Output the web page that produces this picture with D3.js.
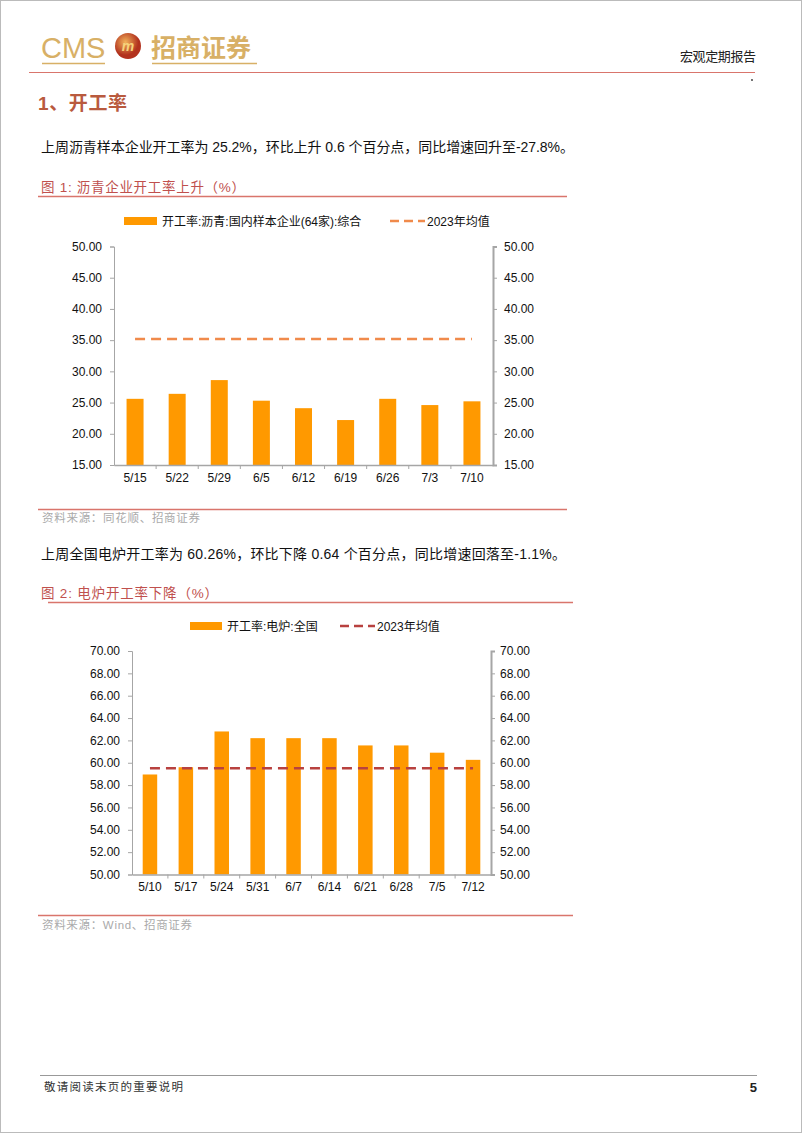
<!DOCTYPE html>
<html><head><meta charset="utf-8">
<script src="https://cdn.jsdelivr.net/npm/d3@7/dist/d3.min.js"></script>
<style>
body{margin:0;background:#fff;}
svg{display:block;}
text{font-family:"Liberation Sans","Noto Sans CJK SC",Arial,sans-serif;}
.cjk{font-family:"Liberation Sans","Noto Sans CJK SC",sans-serif;}
</style></head>
<body>
<svg id="page" width="802" height="1133"></svg>
<script>
// ---- data ----
const cats1 = ["5/15","5/22","5/29","6/5","6/12","6/19","6/26","7/3","7/10"];
const vals1 = [25.6,26.4,28.6,25.3,24.1,22.2,25.6,24.6,25.2];
const avg1 = 35.2;
const ticks1 = [15,20,25,30,35,40,45,50];
const name1 = "开工率:沥青:国内样本企业(64家):综合";

const cats2 = ["5/10","5/17","5/24","5/31","6/7","6/14","6/21","6/28","7/5","7/12"];
const vals2 = [58.95,59.6,62.8,62.2,62.2,62.2,61.55,61.55,60.9,60.26];
const avg2 = 59.5;
const ticks2 = [50,52,54,56,58,60,62,64,66,68,70];
const name2 = "开工率:电炉:全国";
const avgName = "2023年均值";

const svg = d3.select("#page");
const red = "#C0504D";

// page border
svg.append("rect").attr("x",0.5).attr("y",0.5).attr("width",801).attr("height",1132).attr("fill","none").attr("stroke","#bbb");

function txt(x,y,size,fill,s,len,weight){
  const t = svg.append("text").attr("class","cjk").attr("x",x).attr("y",y).attr("font-size",size).attr("fill",fill).text(s);
  if(len) t.attr("textLength",len).attr("lengthAdjust","spacing");
  if(weight) t.attr("font-weight",weight);
  return t;
}

// ---- header ----
const gold = "#D8B066";
svg.append("text").attr("x",41).attr("y",58).attr("font-size",29).attr("fill",gold).attr("font-family","Liberation Sans").text("CMS");
svg.append("line").attr("x1",42).attr("x2",105).attr("y1",63.5).attr("y2",63.5).attr("stroke",gold).attr("stroke-width",1.5);
const grad = svg.append("defs").append("radialGradient").attr("id","lg").attr("cx","40%").attr("cy","35%");
grad.append("stop").attr("offset","0%").attr("stop-color","#F2B25A");
grad.append("stop").attr("offset","100%").attr("stop-color","#B2321E");
svg.append("circle").attr("cx",128).attr("cy",46).attr("r",13).attr("fill","url(#lg)");
svg.append("text").attr("x",128).attr("y",51).attr("text-anchor","middle").attr("font-size",14).attr("font-style","italic").attr("font-weight","bold").attr("fill","#F6D27A").text("m");
txt(151,57,25,gold,"招商证券",null,"bold");
svg.append("line").attr("x1",152).attr("x2",257).attr("y1",63.5).attr("y2",63.5).attr("stroke",gold).attr("stroke-width",1.5);
txt(680,61,13,"#222","宏观定期报告",76);
svg.append("line").attr("x1",29).attr("x2",755).attr("y1",72.5).attr("y2",72.5).attr("stroke","#D9756C").attr("stroke-width",1);
svg.append("circle").attr("cx",752).attr("cy",80).attr("r",0.9).attr("fill","#333");

// ---- section title & texts ----
txt(38,110,19,"#B95A3E","1、开工率",89,"bold");
txt(41,152,14,"#111","上周沥青样本企业开工率为 25.2%，环比上升 0.6 个百分点，同比增速回升至-27.8%。",533);
txt(41,192,13.5,red,"图 1:  沥青企业开工率上升（%）",204);
svg.append("line").attr("x1",38).attr("x2",567).attr("y1",196.5).attr("y2",196.5).attr("stroke","#D9756C").attr("stroke-width",1.3);
svg.append("line").attr("x1",38).attr("x2",567).attr("y1",509.5).attr("y2",509.5).attr("stroke","#D9756C").attr("stroke-width",1.3);
txt(42,522,11.5,"#aaa","资料来源：同花顺、招商证券",158);

txt(41,559,14,"#111","上周全国电炉开工率为 60.26%，环比下降 0.64 个百分点，同比增速回落至-1.1%。",525);
txt(41,598,13.5,red,"图 2:  电炉开工率下降（%）",177);
svg.append("line").attr("x1",48).attr("x2",573).attr("y1",602.5).attr("y2",602.5).attr("stroke","#D9756C").attr("stroke-width",1.3);
svg.append("line").attr("x1",38).attr("x2",573).attr("y1",915.5).attr("y2",915.5).attr("stroke","#D9756C").attr("stroke-width",1.3);
txt(42,929,11.5,"#aaa","资料来源：Wind、招商证券",150);

// footer
svg.append("line").attr("x1",40).attr("x2",757).attr("y1",1075.5).attr("y2",1075.5).attr("stroke","#999").attr("stroke-width",1);
txt(44,1091,11.5,"#333","敬请阅读末页的重要说明",139);
svg.append("text").attr("x",757).attr("y",1092).attr("text-anchor","end").attr("font-size",13).attr("font-weight","bold").attr("fill","#222").text("5");

// ---- chart function ----
function chart(o){
  const g = svg.append("g");
  const xb = d3.scaleBand().domain(o.cats).range([o.x0,o.x1]);
  const y = d3.scaleLinear().domain(o.domain).range([o.y0,o.y1]);
  const axisColor = "#A6A6A6";
  // bars
  g.selectAll("rect.bar").data(o.vals).join("rect").attr("class","bar")
    .attr("x",(d,i)=>xb(o.cats[i])+xb.bandwidth()/2-o.bw/2)
    .attr("width",o.bw)
    .attr("y",d=>y(d)).attr("height",d=>y(o.domain[0])-y(d))
    .attr("fill","#FF9900");
  // average line
  g.append("line").attr("x1",xb(o.cats[0])+xb.bandwidth()/2).attr("x2",xb(o.cats[o.cats.length-1])+xb.bandwidth()/2)
    .attr("y1",y(o.avg)).attr("y2",y(o.avg)).attr("stroke",o.avgColor).attr("stroke-width",2.5).attr("stroke-dasharray","10,6");
  // left axis
  const la = g.append("g").attr("transform",`translate(${o.x0},0)`)
    .call(d3.axisLeft(y).tickValues(o.ticks).tickFormat(d3.format(".2f")).tickSize(4).tickPadding(o.padL));
  la.select(".domain").attr("stroke",axisColor);
  la.selectAll(".tick line").attr("stroke",axisColor);
  la.selectAll("text").attr("font-size",12).attr("fill","#111").attr("font-family","Liberation Sans");
  // right axis
  const ra = g.append("g").attr("transform",`translate(${o.x1},0)`)
    .call(d3.axisRight(y).tickValues(o.ticks).tickFormat(d3.format(".2f")).tickSize(4).tickPadding(o.padR));
  ra.select(".domain").attr("stroke",axisColor).attr("stroke-width",2);
  ra.selectAll(".tick line").attr("stroke",axisColor);
  ra.selectAll("text").attr("font-size",12).attr("fill","#111").attr("font-family","Liberation Sans");
  // bottom axis
  const ba = g.append("g").attr("transform",`translate(0,${o.y0})`)
    .call(d3.axisBottom(xb).tickSize(0).tickPadding(8));
  ba.select(".domain").attr("stroke",axisColor).attr("stroke-width",1.5);
  ba.selectAll("text").attr("font-size",12).attr("fill","#111").attr("font-family","Liberation Sans");
  g.selectAll("line.sep").data(o.cats.slice(1)).join("line").attr("class","sep")
    .attr("x1",d=>xb(d)).attr("x2",d=>xb(d)).attr("y1",o.y0).attr("y2",o.y0+4).attr("stroke",axisColor);
  // legend
  const lg = g.append("g");
  lg.append("rect").attr("x",o.lx).attr("y",o.ly-4).attr("width",o.lw).attr("height",8).attr("fill","#FF9900");
  lg.append("text").attr("class","cjk").attr("x",o.lx+o.lw+5).attr("y",o.ly+4.5).attr("font-size",12).attr("fill","#111").text(o.name);
  lg.append("line").attr("x1",o.dx).attr("x2",o.dx+35).attr("y1",o.ly).attr("y2",o.ly).attr("stroke",o.avgColor).attr("stroke-width",2.5).attr("stroke-dasharray","9,5");
  lg.append("text").attr("class","cjk").attr("x",o.dx+37).attr("y",o.ly+4.5).attr("font-size",12).attr("fill","#111").text(avgName);
}

chart({cats:cats1, vals:vals1, avg:avg1, ticks:ticks1, domain:[15,50], x0:114, x1:493, y0:465, y1:246.5, bw:17,
  avgColor:"#F08A4B", padL:8, padR:7, name:name1, lx:124, ly:221, lw:33, dx:390});
chart({cats:cats2, vals:vals2, avg:avg2, ticks:ticks2, domain:[50,70], x0:132, x1:491, y0:874.5, y1:651, bw:14.5,
  avgColor:"#B8413F", padL:8, padR:5, name:name2, lx:190, ly:626, lw:32, dx:340});
</script>
</body></html>
